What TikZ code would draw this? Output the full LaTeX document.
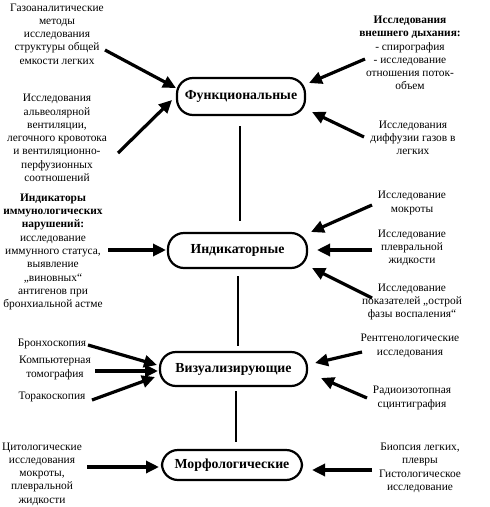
\documentclass[tikz,border=0pt]{standalone}
\usepackage{fontspec}
\setmainfont{Liberation Serif}
\usetikzlibrary{arrows.meta}
\tikzset{
  x=1pt,y=-1pt,
  box/.style={draw,line width=2.2pt,rounded corners=16pt,inner sep=0pt,font=\fontsize{13.8}{15}\selectfont\bfseries},
  txt/.style={align=center,inner sep=0pt,font=\fontsize{11.4}{13.3}\selectfont},
  arr/.style={line width=3.2pt,-{Triangle[length=13pt,width=12pt]}},
  link/.style={line width=2.8pt}
}
\begin{document}
\begin{tikzpicture}
\useasboundingbox (0,0) rectangle (490,507);
% main boxes
\node[box,minimum width=128pt,minimum height=37pt] (f) at (241,96.5) {Функциональные};
\node[box,minimum width=139pt,minimum height=35pt] (i) at (237.5,250.5) {Индикаторные};
\node[box,minimum width=147pt,minimum height=34pt] (v) at (233.5,369) {Визуализирующие};
\node[box,minimum width=140pt,minimum height=30pt] (m) at (232,465) {Морфологические};
% vertical links
\draw[link,shorten <=10pt,shorten >=11pt] ([xshift=-1pt]f.south) -- ([xshift=-1pt]f.south |- i.north);
\draw[link,shorten <=7pt,shorten >=5pt] ([xshift=0.5pt]i.south) -- ([xshift=0.5pt]i.south |- v.north);
\draw[link,shorten <=4pt,shorten >=7pt] ([xshift=2.5pt]v.south) -- ([xshift=2.5pt]v.south |- m.north);
% texts
\node[txt] (t1) at (57,34) {Газоаналитические\\методы\\исследования\\структуры общей\\емкости легких};
\node[txt] (t2) at (57,138) {Исследования\\альвеолярной\\вентиляции,\\легочного кровотока\\и вентиляционно-\\перфузионных\\соотношений};
\node[txt] (t3) at (410,53) {\textbf{Исследования}\\\textbf{внешнего дыхания:}\\- спирография\\- исследование\\отношения поток-\\объем};
\node[txt] (t4) at (413,138) {Исследования\\диффузии газов в\\легких};
\node[txt] (t5) at (53,252) {\textbf{Индикаторы}\\\textbf{иммунологических}\\\textbf{нарушений:}\\исследование\\иммунного статуса,\\выявление\\„виновных“\\антигенов при\\бронхиальной астме};
\node[txt] (t6) at (412,203) {Исследование\\мокроты};
\node[txt] (t7) at (412,248) {Исследование\\плевральной\\жидкости};
\node[txt] (t8) at (412,302) {Исследование\\показателей „острой\\фазы воспаления“};
\node[txt] (t9) at (52,344) {Бронхоскопия};
\node[txt] (t10) at (55,368) {Компьютерная\\томография};
\node[txt] (t11) at (52,397) {Торакоскопия};
\node[txt] (t12) at (410,346) {Рентгенологические\\исследования};
\node[txt] (t13) at (412,398) {Радиоизотопная\\сцинтиграфия};
\node[txt] (t14) at (42,474) {Цитологические\\исследования\\мокроты,\\плевральной\\жидкости};
\node[txt] (t15) at (420,468) {Биопсия легких,\\плевры\\Гистологическое\\исследование};
% arrow endpoints
\coordinate (s1) at (105,50);  \coordinate (e1) at (176,88);
\coordinate (s2) at (118,153); \coordinate (e2) at (172,100);
\coordinate (s3) at (365,59);  \coordinate (e3) at (309,83);
\coordinate (s4) at (364,137); \coordinate (e4) at (312,112);
\coordinate (s5) at (108,250); \coordinate (e5) at (166,250);
\coordinate (s6) at (372,205); \coordinate (e6) at (311,232);
\coordinate (s7) at (372,250); \coordinate (e7) at (317,250);
\coordinate (s8) at (372,298); \coordinate (e8) at (312,268);
\coordinate (s9) at (88,345);  \coordinate (e9) at (157,365);
\coordinate (s10) at (95,371); \coordinate (e10) at (158,371);
\coordinate (s11) at (92,400); \coordinate (e11) at (155,377);
\coordinate (s12) at (362,352); \coordinate (e12) at (315,363);
\coordinate (s13) at (367,398); \coordinate (e13) at (321,378);
\coordinate (s14) at (87,467); \coordinate (e14) at (159,467);
\coordinate (s15) at (372,470); \coordinate (e15) at (312,470);
\foreach \k in {1,...,15} \draw[arr] (s\k) -- (e\k);
\end{tikzpicture}
\end{document}
